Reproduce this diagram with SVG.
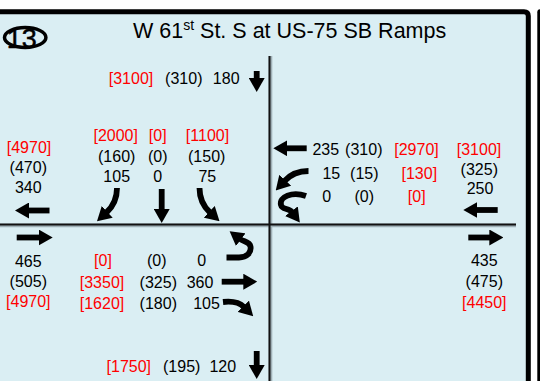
<svg xmlns="http://www.w3.org/2000/svg" width="540" height="381" viewBox="0 0 540 381">
<defs>
<style>
.t{font-family:"Liberation Sans",Arial,Helvetica,sans-serif;font-size:16px;fill:#000;text-anchor:middle}
.r{fill:#ff0000}
.arr{fill:none;stroke:#000;stroke-width:5.8;marker-end:url(#ah)}
.road{fill:none;stroke:#111;stroke-width:2}
.halo{fill:none;stroke:#9fb0b6;stroke-width:3.6}
</style>
<marker id="ah" markerUnits="userSpaceOnUse" markerWidth="14" markerHeight="16" viewBox="0 0 14 16" refX="1" refY="8" orient="auto">
<path d="M0,0 L14,8 L0,16 z" fill="#000"/>
</marker>
</defs>
<rect x="0" y="0" width="540" height="381" fill="#ffffff"/>
<g id="frame">
<path d="M-5,11.7 H524 Q528.3,11.7 528.3,16 V390 H-5 Z" fill="#daeef3" stroke="#000" stroke-width="5"/>
<rect x="537.3" y="9.3" width="10" height="380" rx="3" fill="#000"/>
</g>
<g id="title">
<ellipse cx="25.2" cy="37.5" rx="20.7" ry="9.9" fill="none" stroke="#000" stroke-width="3.5"/>
<text x="21.7" y="48" style="font-family:'Liberation Sans',Arial,sans-serif;font-size:27px;fill:#000;stroke:#000;stroke-width:0.5" text-anchor="middle">13</text>
<text x="133" y="38" style="font-family:'Liberation Sans',Arial,sans-serif;font-size:21.5px;fill:#000">W 61<tspan font-size="14" dy="-8">st</tspan><tspan dy="8"> St. S at US-75 SB Ramps</tspan></text>
</g>
<g id="road-lines">
<path class="halo" d="M0,225.5 H516 M270.5,56 V381"/>
<path class="road" d="M0,224.5 H516 M269.5,56 V381"/>
</g>
<g id="movement-arrows">
<path class="arr" d="M256.7,71 V79"/>
<path class="arr" d="M49.5,210.5 H28"/>
<path class="arr" d="M117,188 C117,198 113.5,206 106.5,212.5"/>
<path class="arr" d="M161.7,189 V210"/>
<path class="arr" d="M199.5,188 C199.5,198 203,206 210,212.5"/>
<path class="arr" d="M306.7,148.3 H286.3"/>
<path class="arr" d="M308.5,171 C298,171 290,175 284.5,181"/>
<path class="arr" d="M306,196 C292,191 279,197 281,205 C282,210 289,208 292,212"/>
<path class="arr" d="M226.5,257.5 H239 C247,257.5 251.5,252.5 250.5,246.5 C249.5,241.5 244,242 240,239"/>
<path class="arr" d="M221.7,281.7 H244.3"/>
<path class="arr" d="M223,302 C232,301 240,303 244,307"/>
<path class="arr" d="M16.7,237.5 H39.7"/>
<path class="arr" d="M468.3,237.5 H490.3"/>
<path class="arr" d="M497.7,210 H476.3"/>
<path class="arr" d="M256.7,351 V366"/>
</g>
<g id="sb-exit">
<text class="t r" x="131" y="84">[3100]</text>
<text class="t" x="183.8" y="84">(310)</text>
<text class="t" x="226.2" y="84">180</text>
</g>
<g id="wb-exit">
<text class="t r" x="29" y="152.5">[4970]</text>
<text class="t" x="28.3" y="173">(470)</text>
<text class="t" x="28.3" y="192.5">340</text>
</g>
<g id="sb-approach">
<text class="t r" x="115.7" y="141">[2000]</text>
<text class="t" x="116.7" y="162">(160)</text>
<text class="t" x="116.7" y="181.5">105</text>
<text class="t r" x="157.7" y="141">[0]</text>
<text class="t" x="157.7" y="162">(0)</text>
<text class="t" x="157.7" y="181.5">0</text>
<text class="t r" x="207.5" y="141">[1100]</text>
<text class="t" x="206.7" y="162">(150)</text>
<text class="t" x="207.3" y="181.5">75</text>
</g>
<g id="wb-approach">
<text class="t" x="325.8" y="154.5">235</text>
<text class="t" x="363.8" y="154.5">(310)</text>
<text class="t r" x="416.5" y="154.5">[2970]</text>
<text class="t" x="331.3" y="179">15</text>
<text class="t" x="364.3" y="179">(15)</text>
<text class="t r" x="419.3" y="179">[130]</text>
<text class="t" x="326.7" y="201.5">0</text>
<text class="t" x="364.3" y="201.5">(0)</text>
<text class="t r" x="416.7" y="201.5">[0]</text>
</g>
<g id="wb-entry">
<text class="t r" x="479" y="154.5">[3100]</text>
<text class="t" x="479.3" y="174.5">(325)</text>
<text class="t" x="480" y="193.5">250</text>
</g>
<g id="eb-entry">
<text class="t" x="28.3" y="266.5">465</text>
<text class="t" x="28.3" y="287">(505)</text>
<text class="t r" x="28.3" y="307">[4970]</text>
</g>
<g id="eb-approach">
<text class="t r" x="103" y="265.5">[0]</text>
<text class="t" x="156.7" y="265.5">(0)</text>
<text class="t" x="201.7" y="265.5">0</text>
<text class="t r" x="102" y="287.5">[3350]</text>
<text class="t" x="158.3" y="287.5">(325)</text>
<text class="t" x="200" y="287.5">360</text>
<text class="t r" x="102" y="309">[1620]</text>
<text class="t" x="158.3" y="309">(180)</text>
<text class="t" x="206.5" y="309">105</text>
</g>
<g id="eb-exit">
<text class="t" x="484.3" y="265.5">435</text>
<text class="t" x="484.3" y="287">(475)</text>
<text class="t r" x="484.3" y="308">[4450]</text>
</g>
<g id="nb-exit">
<text class="t r" x="128.8" y="371.5">[1750]</text>
<text class="t" x="181.7" y="371.5">(195)</text>
<text class="t" x="222.8" y="371.5">120</text>
</g>
</svg>
